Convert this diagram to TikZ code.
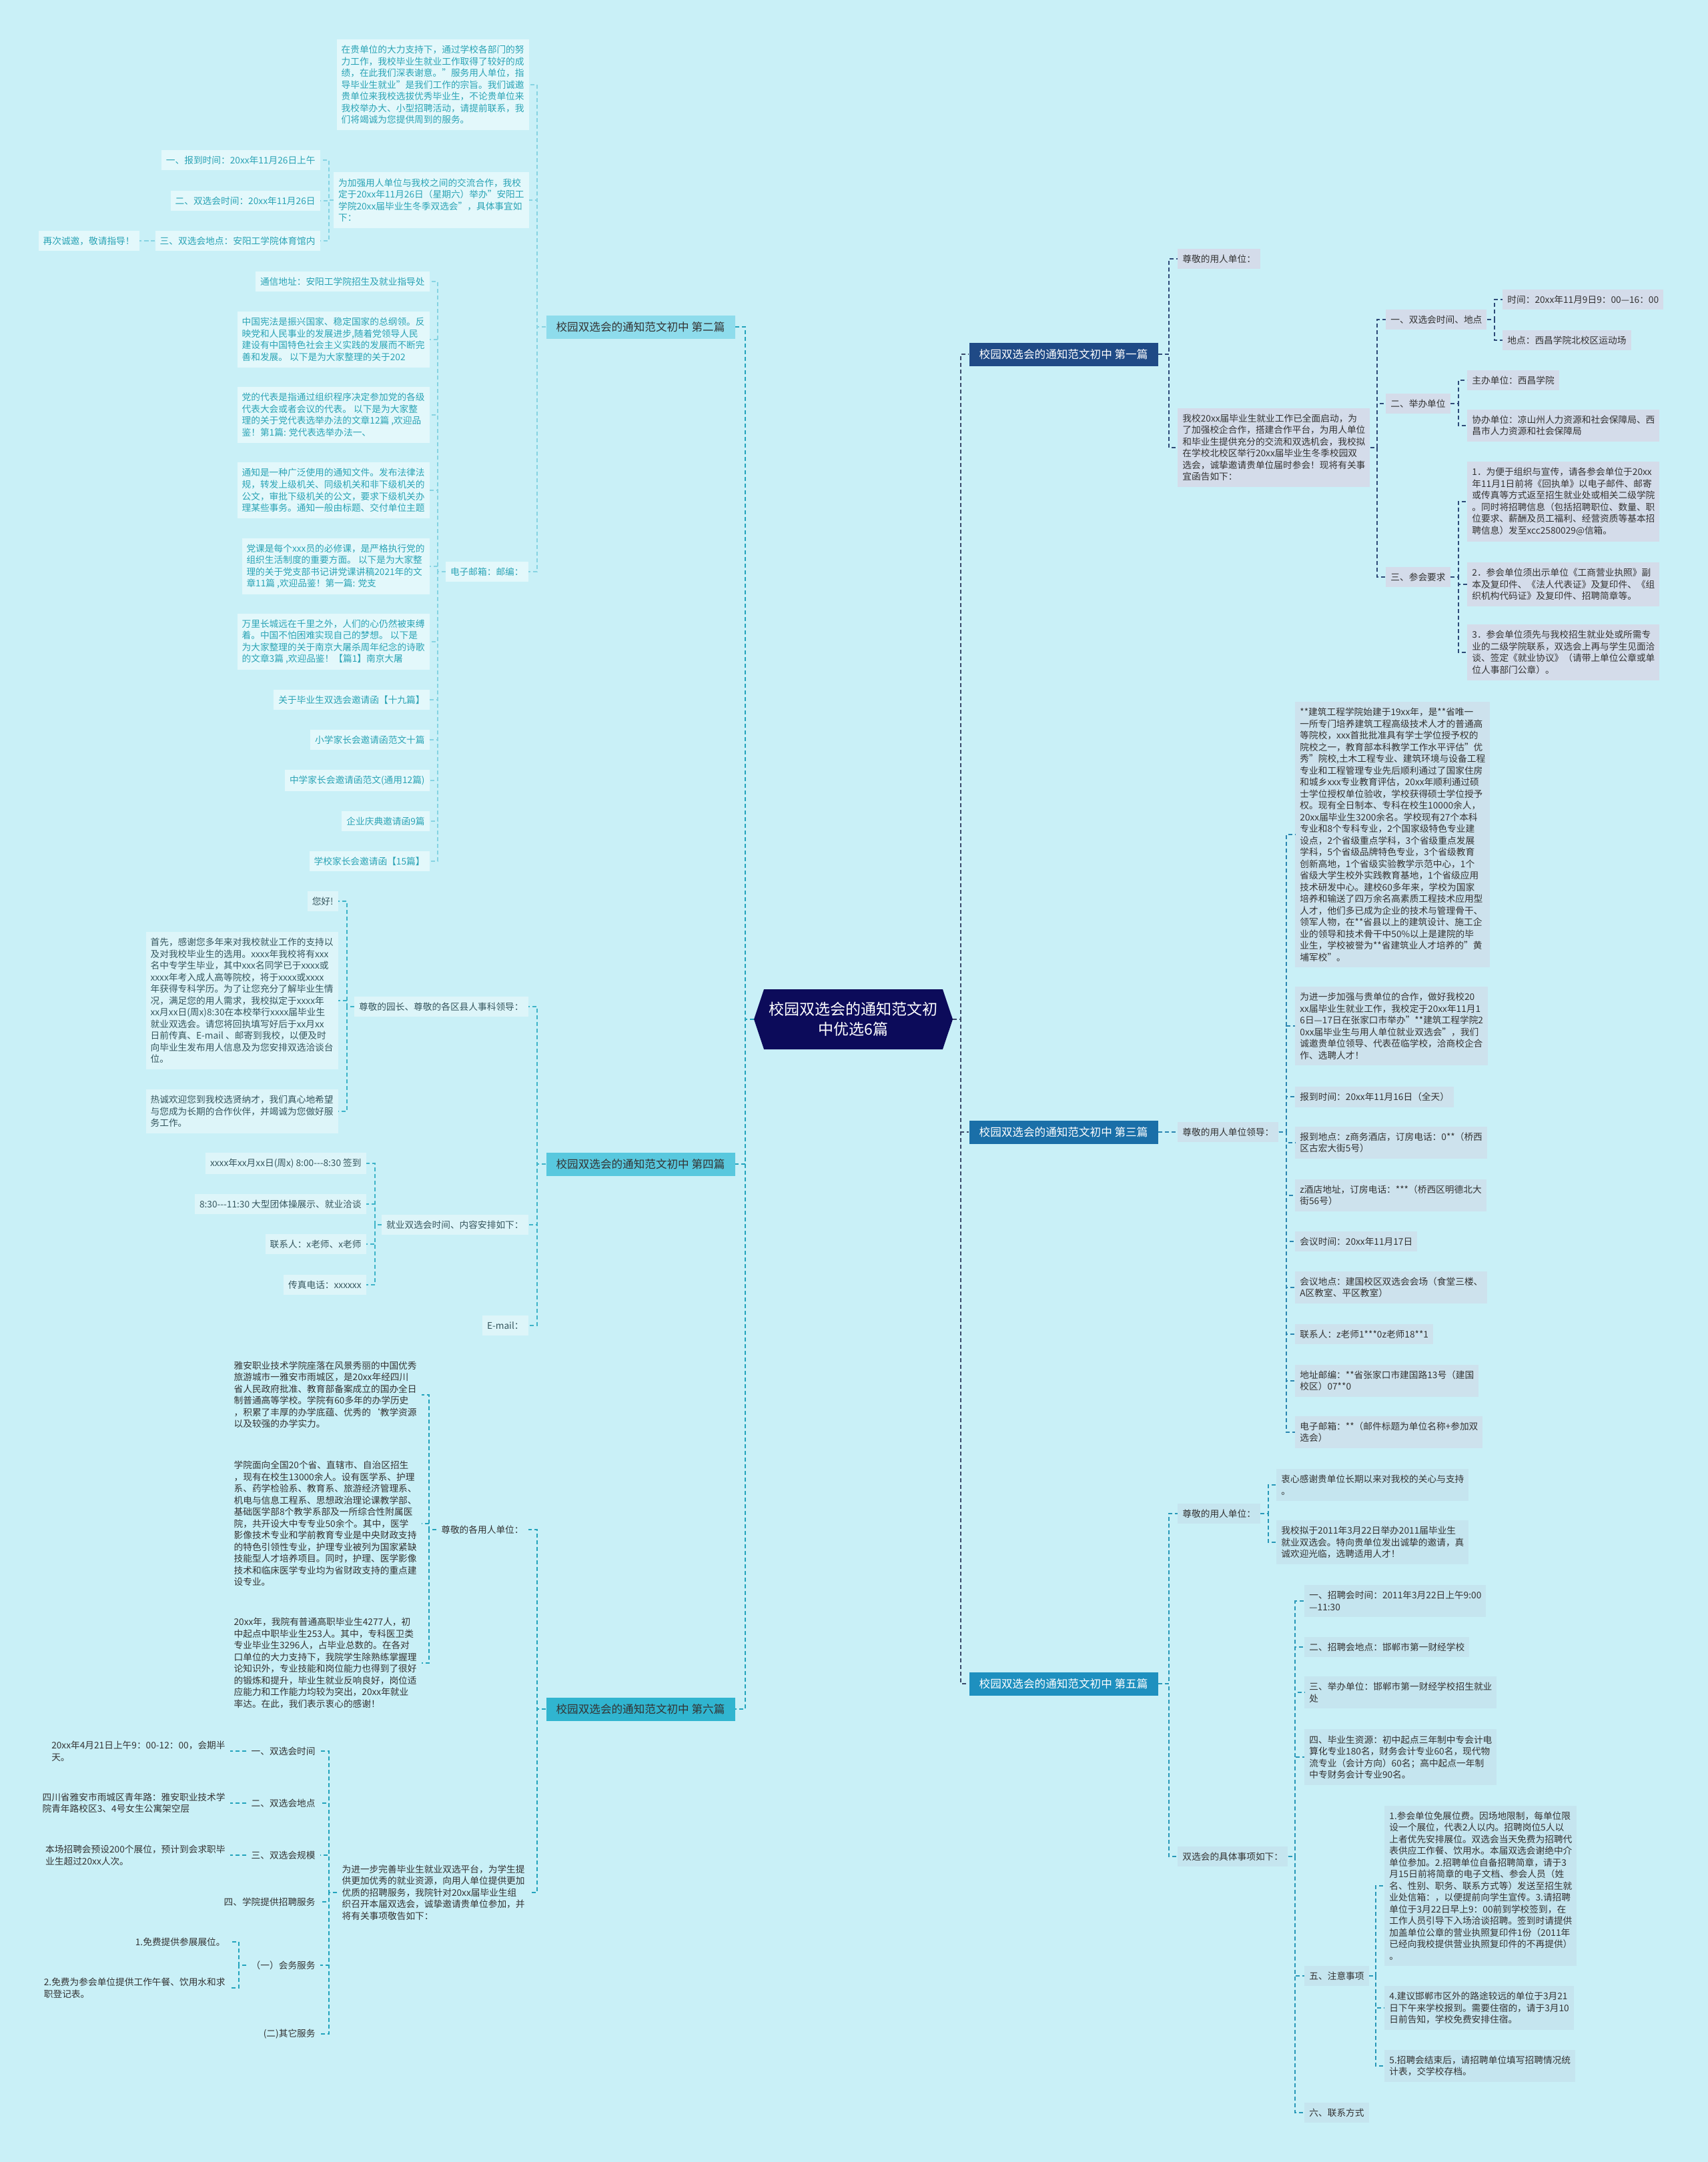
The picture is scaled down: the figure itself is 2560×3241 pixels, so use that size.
\documentclass[tikz,border=0pt]{standalone}
\usepackage{fontspec}
\setmainfont{Noto Sans CJK SC}
\usepackage{tikz}
\usetikzlibrary{shapes.symbols}
\definecolor{bgc}{HTML}{C9F0F7}
\definecolor{rootc}{HTML}{0C0B5A}
\definecolor{c1}{HTML}{1F4A86}
\definecolor{c3}{HTML}{1A6FA8}
\definecolor{c5}{HTML}{1E90BF}
\definecolor{c2}{HTML}{8EDCEC}
\definecolor{c4}{HTML}{58C8DE}
\definecolor{c6}{HTML}{30B5D0}
\definecolor{f1}{HTML}{D4DCEA}
\definecolor{f3}{HTML}{CDE2ED}
\definecolor{f5}{HTML}{C5E5EF}
\definecolor{f2}{HTML}{E3F8FB}
\definecolor{f4}{HTML}{DDF5F9}
\definecolor{tx}{HTML}{333333}
\definecolor{t2}{HTML}{2AA3B5}
\definecolor{t4}{HTML}{35565E}
\definecolor{k0}{HTML}{3A4A6A}
\definecolor{k1}{HTML}{2E4A78}
\definecolor{k3}{HTML}{2A85B0}
\definecolor{k5}{HTML}{2898B8}
\definecolor{k2}{HTML}{86D3E2}
\definecolor{k4}{HTML}{3DB3C8}
\definecolor{k6}{HTML}{22A3BC}

\begin{document}
\begin{tikzpicture}[x=.5pt,y=-.5pt,font=\fontsize{6.85}{8.75}\selectfont]
\tikzset{lf/.style={align=left,inner xsep=3.5pt,inner ysep=4.5pt},
L1/.style={lf,fill=f1,text=tx,anchor=west},
L3/.style={lf,fill=f3,text=tx,anchor=west},
L5/.style={lf,fill=f5,text=tx,anchor=west},
L2/.style={lf,fill=f2,text=t2,anchor=east},
L4/.style={lf,fill=f4,text=t4,anchor=east},
L6/.style={lf,text=tx,anchor=east},
br/.style={minimum width=141.5pt,minimum height=17.5pt,inner sep=1pt,font=\fontsize{8.3}{10}\selectfont},
ln/.style={dash pattern=on 3pt off 2pt,line width=.8pt}}
\fill[bgc] (0,0) rectangle (2560,3241);
\useasboundingbox (0,0) rectangle (2560,3241);

% centre and the six branches
\node[signal,signal to=west and east,signal pointer angle=143,fill=rootc,text=white,align=center,
 minimum width=149pt,minimum height=45pt,inner sep=2pt,font=\fontsize{11.5}{15}\selectfont] (root) at (1279,1528){校园双选会的通知范文初\\中优选6篇};
\node[br,fill=c1,text=white] (b1) at (1594,531){校园双选会的通知范文初中 第一篇};
\node[br,fill=c3,text=white] (b3) at (1594,1697){校园双选会的通知范文初中 第三篇};
\node[br,fill=c5,text=white] (b5) at (1594,2524){校园双选会的通知范文初中 第五篇};
\node[br,fill=c2,text=tx] (b2) at (960,490){校园双选会的通知范文初中 第二篇};
\node[br,fill=c4,text=tx] (b4) at (960,1745){校园双选会的通知范文初中 第四篇};
\node[br,fill=c6,text=tx] (b6) at (960,2562){校园双选会的通知范文初中 第六篇};
\coordinate (jR) at (1440,1528);\coordinate (jL) at (1117,1528);
\foreach \n in {b1,b3,b5}{\draw[ln,draw=k0] (root.east)--(jR)|-(\n.west);}
\foreach \n in {b2,b4,b6}{\draw[ln,draw=k6] (root.west)--(jL)|-(\n.east);}

% 第一篇
\node[L1] (b1g) at (1765,388){尊敬的用人单位：};
\node[L1] (b1p) at (1765,671){我校20xx届毕业生就业工作已全面启动，为\\了加强校企合作，搭建合作平台，为用人单位\\和毕业生提供充分的交流和双选机会，我校拟\\在学校北校区举行20xx届毕业生冬季校园双\\选会，诚挚邀请贵单位届时参会！现将有关事\\宜函告如下：};
\node[L1] (b1a) at (2077,479){一、双选会时间、地点};
\node[L1] (b1b) at (2077,605){二、举办单位};
\node[L1] (b1c) at (2077,865){三、参会要求};
\node[L1] (b1a1) at (2252,449){时间：20xx年11月9日9：00—16：00};
\node[L1] (b1a2) at (2252,510){地点：西昌学院北校区运动场};
\node[L1] (b1b1) at (2199,570){主办单位：西昌学院};
\node[L1] (b1b2) at (2199,638){协办单位：凉山州人力资源和社会保障局、西\\昌市人力资源和社会保障局};
\node[L1] (b1c1) at (2199,752){1．为便于组织与宣传，请各参会单位于20xx\\年11月1日前将《回执单》以电子邮件、邮寄\\或传真等方式返至招生就业处或相关二级学院\\。同时将招聘信息（包括招聘职位、数量、职\\位要求、薪酬及员工福利、经营资质等基本招\\聘信息）发至xcc2580029@信箱。};
\node[L1] (b1c2) at (2199,876){2．参会单位须出示单位《工商营业执照》副\\本及复印件、《法人代表证》及复印件、《组\\织机构代码证》及复印件、招聘简章等。};
\node[L1] (b1c3) at (2199,978){3．参会单位须先与我校招生就业处或所需专\\业的二级学院联系，双选会上再与学生见面洽\\谈、签定《就业协议》（请带上单位公章或单\\位人事部门公章）。};
\coordinate (j1) at (1752,531);\coordinate (j1p) at (2064,671);
\coordinate (j1a) at (2240,479);\coordinate (j1b) at (2186,605);\coordinate (j1c) at (2186,865);
\foreach \n in {b1g,b1p}{\draw[ln,draw=k1] (b1.east)--(j1)|-(\n.west);}
\foreach \n in {b1a,b1b,b1c}{\draw[ln,draw=k1] (b1p.east)--(j1p)|-(\n.west);}
\foreach \n in {b1a1,b1a2}{\draw[ln,draw=k1] (b1a.east)--(j1a)|-(\n.west);}
\foreach \n in {b1b1,b1b2}{\draw[ln,draw=k1] (b1b.east)--(j1b)|-(\n.west);}
\foreach \n in {b1c1,b1c2,b1c3}{\draw[ln,draw=k1] (b1c.east)--(j1c)|-(\n.west);}

% 第三篇
\node[L3] (b3g) at (1765,1697){尊敬的用人单位领导：};
\node[L3] (b3p1) at (1941,1251){**建筑工程学院始建于19xx年，是**省唯一\\一所专门培养建筑工程高级技术人才的普通高\\等院校，xxx首批批准具有学士学位授予权的\\院校之一，教育部本科教学工作水平评估"优\\秀"院校,土木工程专业、建筑环境与设备工程\\专业和工程管理专业先后顺利通过了国家住房\\和城乡xxx专业教育评估，20xx年顺利通过硕\\士学位授权单位验收，学校获得硕士学位授予\\权。现有全日制本、专科在校生10000余人，\\20xx届毕业生3200余名。学校现有27个本科\\专业和8个专科专业，2个国家级特色专业建\\设点，2个省级重点学科，3个省级重点发展\\学科，5个省级品牌特色专业，3个省级教育\\创新高地，1个省级实验教学示范中心，1个\\省级大学生校外实践教育基地，1个省级应用\\技术研发中心。建校60多年来，学校为国家\\培养和输送了四万余名高素质工程技术应用型\\人才，他们多已成为企业的技术与管理骨干、\\领军人物，在**省县以上的建筑设计、施工企\\业的领导和技术骨干中50\%以上是建院的毕\\业生，学校被誉为**省建筑业人才培养的"黄\\埔军校"。};
\node[L3] (b3p2) at (1941,1538){为进一步加强与贵单位的合作，做好我校20\\xx届毕业生就业工作，我校定于20xx年11月1\\6日—17日在张家口市举办"**建筑工程学院2\\0xx届毕业生与用人单位就业双选会"，我们\\诚邀贵单位领导、代表莅临学校，洽商校企合\\作、选聘人才！};
\node[L3] (b3i1) at (1941,1644){报到时间：20xx年11月16日（全天）};
\node[L3] (b3i2) at (1941,1713){报到地点：z商务酒店，订房电话：0**（桥西\\区古宏大街5号）};
\node[L3] (b3i3) at (1941,1792){z酒店地址，订房电话：***（桥西区明德北大\\街56号）};
\node[L3] (b3i4) at (1941,1861){会议时间：20xx年11月17日};
\node[L3] (b3i5) at (1941,1930){会议地点：建国校区双选会会场（食堂三楼、\\A区教室、平区教室）};
\node[L3] (b3i6) at (1941,2000){联系人：z老师1***0z老师18**1};
\node[L3] (b3i7) at (1941,2070){地址邮编：**省张家口市建国路13号（建国\\校区）07**0};
\node[L3] (b3i8) at (1941,2147){电子邮箱：**（邮件标题为单位名称+参加双\\选会）};
\coordinate (j3) at (1752,1697);\coordinate (j3g) at (1928,1697);
\draw[ln,draw=k3] (b3.east)--(j3)|-(b3g.west);
\foreach \n in {b3p1,b3p2,b3i1,b3i2,b3i3,b3i4,b3i5,b3i6,b3i7,b3i8}{\draw[ln,draw=k3] (b3g.east)--(j3g)|-(\n.west);}

% 第五篇
\node[L5] (b5g) at (1765,2269){尊敬的用人单位：};
\node[L5] (b5s) at (1765,2783){双选会的具体事项如下：};
\node[L5] (b5g1) at (1913,2226){衷心感谢贵单位长期以来对我校的关心与支持\\。};
\node[L5] (b5g2) at (1913,2312){我校拟于2011年3月22日举办2011届毕业生\\就业双选会。特向贵单位发出诚挚的邀请，真\\诚欢迎光临，选聘适用人才！};
\node[L5] (b5s1) at (1955,2400){一、招聘会时间：2011年3月22日上午9:00\\—11:30};
\node[L5] (b5s2) at (1955,2469){二、招聘会地点：邯郸市第一财经学校};
\node[L5] (b5s3) at (1955,2537){三、举办单位：邯郸市第一财经学校招生就业\\处};
\node[L5] (b5s4) at (1955,2634){四、毕业生资源：初中起点三年制中专会计电\\算化专业180名，财务会计专业60名，现代物\\流专业（会计方向）60名；高中起点一年制\\中专财务会计专业90名。};
\node[L5] (b5s5) at (1955,2962){五、注意事项};
\node[L5] (b5s6) at (1955,3167){六、联系方式};
\node[L5] (b5n1) at (2075,2827){1.参会单位免展位费。因场地限制，每单位限\\设一个展位，代表2人以内。招聘岗位5人以\\上者优先安排展位。双选会当天免费为招聘代\\表供应工作餐、饮用水。本届双选会谢绝中介\\单位参加。2.招聘单位自备招聘简章，请于3\\月15日前将简章的电子文档、参会人员（姓\\名、性别、职务、联系方式等）发送至招生就\\业处信箱：，以便提前向学生宣传。3.请招聘\\单位于3月22日早上9：00前到学校签到，在\\工作人员引导下入场洽谈招聘。签到时请提供\\加盖单位公章的营业执照复印件1份（2011年\\已经向我校提供营业执照复印件的不再提供）\\。};
\node[L5] (b5n4) at (2075,3010){4.建议邯郸市区外的路途较远的单位于3月21\\日下午来学校报到。需要住宿的，请于3月10\\日前告知，学校免费安排住宿。};
\node[L5] (b5n5) at (2075,3097){5.招聘会结束后，请招聘单位填写招聘情况统\\计表，交学校存档。};
\coordinate (j5) at (1752,2524);\coordinate (j5g) at (1901,2269);
\coordinate (j5s) at (1941,2783);\coordinate (j5n) at (2062,2962);
\foreach \n in {b5g,b5s}{\draw[ln,draw=k5] (b5.east)--(j5)|-(\n.west);}
\foreach \n in {b5g1,b5g2}{\draw[ln,draw=k5] (b5g.east)--(j5g)|-(\n.west);}
\foreach \n in {b5s1,b5s2,b5s3,b5s4,b5s5,b5s6}{\draw[ln,draw=k5] (b5s.east)--(j5s)|-(\n.west);}
\foreach \n in {b5n1,b5n4,b5n5}{\draw[ln,draw=k5] (b5s5.east)--(j5n)|-(\n.west);}

% 第二篇
\node[L2] (b2p1) at (793,127){在贵单位的大力支持下，通过学校各部门的努\\力工作，我校毕业生就业工作取得了较好的成\\绩，在此我们深表谢意。"服务用人单位，指\\导毕业生就业"是我们工作的宗旨。我们诚邀\\贵单位来我校选拔优秀毕业生，不论贵单位来\\我校举办大、小型招聘活动，请提前联系，我\\们将竭诚为您提供周到的服务。};
\node[L2] (b2p2) at (793,300){为加强用人单位与我校之间的交流合作，我校\\定于20xx年11月26日（星期六）举办"安阳工\\学院20xx届毕业生冬季双选会"，具体事宜如\\下：};
\node[L2] (b2e) at (792,857){电子邮箱：邮编：};
\node[L2] (b2t1) at (480,240){一、报到时间：20xx年11月26日上午};
\node[L2] (b2t2) at (480,301){二、双选会时间：20xx年11月26日};
\node[L2] (b2t3) at (480,361){三、双选会地点：安阳工学院体育馆内};
\node[L2] (b2t3a) at (209,361){再次诚邀，敬请指导！};
\node[L2] (b2e1) at (644,422){通信地址：安阳工学院招生及就业指导处};
\node[L2] (b2e2) at (644,509){中国宪法是振兴国家、稳定国家的总纲领。反\\映党和人民事业的发展进步,随着党领导人民\\建设有中国特色社会主义实践的发展而不断完\\善和发展。 以下是为大家整理的关于202};
\node[L2] (b2e3) at (644,622){党的代表是指通过组织程序决定参加党的各级\\代表大会或者会议的代表。 以下是为大家整\\理的关于党代表选举办法的文章12篇 ,欢迎品\\鉴！第1篇: 党代表选举办法一、};
\node[L2] (b2e4) at (644,735){通知是一种广泛使用的通知文件。发布法律法\\规，转发上级机关、同级机关和非下级机关的\\公文，审批下级机关的公文，要求下级机关办\\理某些事务。通知一般由标题、交付单位主题};
\node[L2] (b2e5) at (644,849){党课是每个xxx员的必修课，是严格执行党的\\组织生活制度的重要方面。 以下是为大家整\\理的关于党支部书记讲党课讲稿2021年的文\\章11篇 ,欢迎品鉴！第一篇: 党支};
\node[L2] (b2e6) at (644,962){万里长城远在千里之外，人们的心仍然被束缚\\着。中国不怕困难实现自己的梦想。 以下是\\为大家整理的关于南京大屠杀周年纪念的诗歌\\的文章3篇 ,欢迎品鉴！【篇1】南京大屠};
\node[L2] (b2e7) at (644,1049){关于毕业生双选会邀请函【十九篇】};
\node[L2] (b2e8) at (644,1109){小学家长会邀请函范文十篇};
\node[L2] (b2e9) at (644,1170){中学家长会邀请函范文(通用12篇)};
\node[L2] (b2e10) at (644,1231){企业庆典邀请函9篇};
\node[L2] (b2e11) at (644,1291){学校家长会邀请函【15篇】};
\coordinate (j2) at (805,490);\coordinate (j2p) at (493,300);
\coordinate (j2t) at (222,361);\coordinate (j2e) at (656,857);
\foreach \n in {b2p1,b2p2,b2e}{\draw[ln,draw=k2] (b2.west)--(j2)|-(\n.east);}
\foreach \n in {b2t1,b2t2,b2t3}{\draw[ln,draw=k2] (b2p2.west)--(j2p)|-(\n.east);}
\draw[ln,draw=k2] (b2t3.west)--(j2t)--(b2t3a.east);
\foreach \n in {b2e1,b2e2,b2e3,b2e4,b2e5,b2e6,b2e7,b2e8,b2e9,b2e10,b2e11}{\draw[ln,draw=k2] (b2e.west)--(j2e)|-(\n.east);}

% 第四篇
\node[L4] (b4g) at (792,1509){尊敬的园长、尊敬的各区县人事科领导：};
\node[L4] (b4s) at (792,1836){就业双选会时间、内容安排如下：};
\node[L4] (b4m) at (792,1987){E-mail：};
\node[L4] (b4g1) at (507,1351){您好!};
\node[L4] (b4g2) at (507,1500){首先，感谢您多年来对我校就业工作的支持以\\及对我校毕业生的选用。xxxx年我校将有xxx\\名中专学生毕业，其中xxx名同学已于xxxx或\\xxxx年考入成人高等院校，将于xxxx或xxxx\\年获得专科学历。为了让您充分了解毕业生情\\况，满足您的用人需求，我校拟定于xxxx年\\xx月xx日(周x)8:30在本校举行xxxx届毕业生\\就业双选会。请您将回执填写好后于xx月xx\\日前传真、E-mail 、邮寄到我校，以便及时\\向毕业生发布用人信息及为您安排双选洽谈台\\位。};
\node[L4] (b4g3) at (507,1666){热诚欢迎您到我校选贤纳才，我们真心地希望\\与您成为长期的合作伙伴，并竭诚为您做好服\\务工作。};
\node[L4] (b4s1) at (549,1744){xxxx年xx月xx日(周x) 8:00-{}-{}-8:30 签到};
\node[L4] (b4s2) at (549,1805){8:30-{}-{}-11:30 大型团体操展示、就业洽谈};
\node[L4] (b4s3) at (549,1865){联系人：x老师、x老师};
\node[L4] (b4s4) at (549,1926){传真电话：xxxxxx};
\coordinate (j4) at (805,1745);\coordinate (j4g) at (520,1509);\coordinate (j4s) at (562,1836);
\foreach \n in {b4g,b4s,b4m}{\draw[ln,draw=k4] (b4.west)--(j4)|-(\n.east);}
\foreach \n in {b4g1,b4g2,b4g3}{\draw[ln,draw=k4] (b4g.west)--(j4g)|-(\n.east);}
\foreach \n in {b4s1,b4s2,b4s3,b4s4}{\draw[ln,draw=k4] (b4s.west)--(j4s)|-(\n.east);}

% 第六篇
\node[L6] (b6g) at (792,2293){尊敬的各用人单位：};
\node[L6] (b6p) at (794,2837){为进一步完善毕业生就业双选平台，为学生提\\供更加优秀的就业资源，向用人单位提供更加\\优质的招聘服务，我院针对20xx届毕业生组\\织召开本届双选会，诚挚邀请贵单位参加，并\\将有关事项敬告如下：};
\node[L6] (b6g1) at (632,2091){雅安职业技术学院座落在风景秀丽的中国优秀\\旅游城市一雅安市雨城区，是20xx年经四川\\省人民政府批准、教育部备案成立的国办全日\\制普通高等学校。学院有60多年的办学历史\\，积累了丰厚的办学底蕴、优秀的\symbol{96}教学资源\\以及较强的办学实力。};
\node[L6] (b6g2) at (632,2284){学院面向全国20个省、直辖市、自治区招生\\，现有在校生13000余人。设有医学系、护理\\系、药学检验系、教育系、旅游经济管理系、\\机电与信息工程系、思想政治理论课教学部、\\基础医学部8个教学系部及一所综合性附属医\\院，共开设大中专专业50余个。其中，医学\\影像技术专业和学前教育专业是中央财政支持\\的特色引领性专业，护理专业被列为国家紧缺\\技能型人才培养项目。同时，护理、医学影像\\技术和临床医学专业均为省财政支持的重点建\\设专业。};
\node[L6] (b6g3) at (632,2493){20xx年，我院有普通高职毕业生4277人，初\\中起点中职毕业生253人。其中，专科医卫类\\专业毕业生3296人，占毕业总数的。在各对\\口单位的大力支持下，我院学生除熟练掌握理\\论知识外，专业技能和岗位能力也得到了很好\\的锻炼和提升，毕业生就业反响良好，岗位适\\应能力和工作能力均较为突出，20xx年就业\\率达。在此，我们表示衷心的感谢！};
\node[L6] (b6a) at (480,2625){一、双选会时间};
\node[L6] (b6b) at (480,2703){二、双选会地点};
\node[L6] (b6c) at (480,2781){三、双选会规模};
\node[L6] (b6d) at (480,2851){四、学院提供招聘服务};
\node[L6] (b6e) at (480,2946){（一）会务服务};
\node[L6] (b6f) at (480,3049){(二)其它服务};
\node[L6] (b6a1) at (345,2625){20xx年4月21日上午9：00-12：00，会期半\\天。};
\node[L6] (b6b1) at (345,2703){四川省雅安市雨城区青年路：雅安职业技术学\\院青年路校区3、4号女生公寓架空层};
\node[L6] (b6c1) at (345,2781){本场招聘会预设200个展位，预计到会求职毕\\业生超过20xx人次。};
\node[L6] (b6e1) at (345,2911){1.免费提供参展展位。};
\node[L6] (b6e2) at (345,2980){2.免费为参会单位提供工作午餐、饮用水和求\\职登记表。};
\coordinate (j6) at (805,2562);\coordinate (j6g) at (643,2293);\coordinate (j6p) at (493,2837);
\coordinate (j6e) at (358,2946);
\foreach \n in {b6g,b6p}{\draw[ln,draw=k6] (b6.west)--(j6)|-(\n.east);}
\foreach \n in {b6g1,b6g2,b6g3}{\draw[ln,draw=k6] (b6g.west)--(j6g)|-(\n.east);}
\foreach \n in {b6a,b6b,b6c,b6d,b6e,b6f}{\draw[ln,draw=k6] (b6p.west)--(j6p)|-(\n.east);}
\foreach \n/\m in {b6a/b6a1,b6b/b6b1,b6c/b6c1}{\draw[ln,draw=k6] (\n.west)--(\m.east);}
\foreach \n in {b6e1,b6e2}{\draw[ln,draw=k6] (b6e.west)--(j6e)|-(\n.east);}
\end{tikzpicture}
\end{document}
